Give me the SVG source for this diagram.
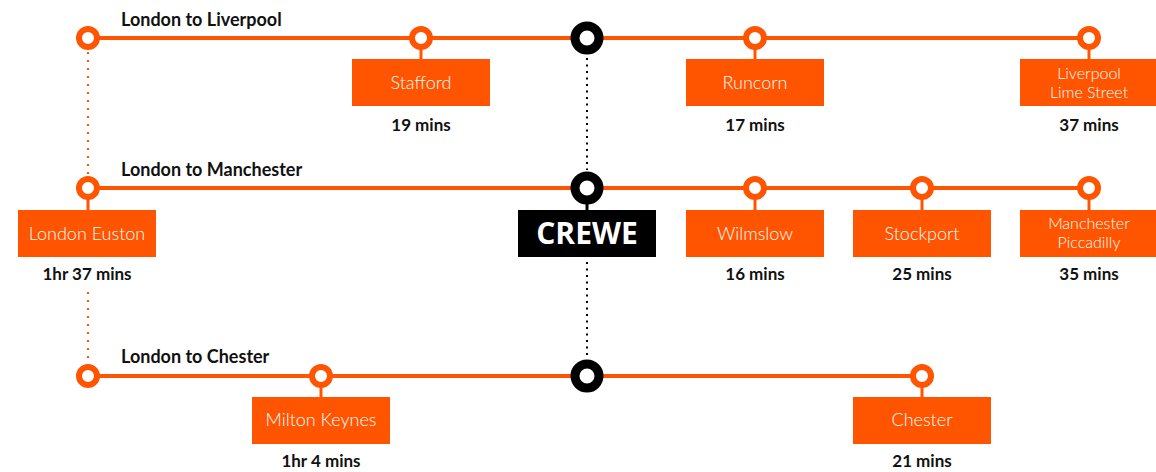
<svg xmlns="http://www.w3.org/2000/svg" width="1156" height="472" viewBox="0 0 1156 472">
<style>
.line{stroke:#ff5400;stroke-width:4;fill:none}
.stub{stroke:#ff5400;stroke-width:3}
.stubk{stroke:#000;stroke-width:3}
.dot-o{stroke:#ff5400;stroke-width:2;stroke-dasharray:2 6;fill:none}
.dot-k{stroke:#000;stroke-width:2;stroke-dasharray:2 4.5;fill:none}
.st{fill:#fff;stroke:#ff5400;stroke-width:6}
.hub{fill:#fff;stroke:#000;stroke-width:9}
.box{fill:#ff5400}
.boxk{fill:#000}
.title{font-family:Lato,"Open Sans",sans-serif;font-weight:700;font-size:18px;fill:#111}
.name{font-family:Lato,"Open Sans",sans-serif;font-weight:300;font-size:18px;fill:#fff;text-anchor:middle}
.name2{font-family:Lato,"Open Sans",sans-serif;font-weight:300;font-size:16px;fill:#fff;text-anchor:middle}
.time{font-family:Lato,"Open Sans",sans-serif;font-weight:700;font-size:17px;fill:#111;text-anchor:middle}
.crewe{font-family:"Open Sans",Lato,sans-serif;font-weight:700;font-size:30px;fill:#fff;text-anchor:middle}
</style>
<g id="connectors">
<line class="line" x1="88" y1="38" x2="1089" y2="38"/>
<line class="line" x1="88" y1="188" x2="1089" y2="188"/>
<line class="line" x1="88" y1="376" x2="922" y2="376"/>
<line class="dot-o" x1="88" y1="52" x2="88" y2="176"/>
<line class="dot-o" x1="88" y1="292" x2="88" y2="364"/>
<line class="dot-k" x1="587" y1="58" x2="587" y2="170"/>
<line class="dot-k" x1="587" y1="262" x2="587" y2="358"/>
</g>
<text class="title" x="121" y="26">London to Liverpool</text>
<text class="title" x="121" y="176">London to Manchester</text>
<text class="title" x="121" y="363">London to Chester</text>
<g id="london-liverpool-start"><circle class="st" cx="88" cy="38" r="9"/></g>
<g id="stafford">
<line class="stub" x1="421" y1="46" x2="421" y2="59"/>
<circle class="st" cx="421" cy="38" r="9"/>
<rect class="box" x="352" y="59" width="138" height="47"/>
<text class="name" x="421" y="89">Stafford</text>
<text class="time" x="421" y="131">19 mins</text>
</g>
<g id="runcorn">
<line class="stub" x1="755" y1="46" x2="755" y2="59"/>
<circle class="st" cx="755" cy="38" r="9"/>
<rect class="box" x="686" y="59" width="138" height="47"/>
<text class="name" x="755" y="89">Runcorn</text>
<text class="time" x="755" y="131">17 mins</text>
</g>
<g id="liverpool">
<line class="stub" x1="1089" y1="46" x2="1089" y2="59"/>
<circle class="st" cx="1089" cy="38" r="9"/>
<rect class="box" x="1020" y="59" width="138" height="47"/>
<text class="name2" x="1089" y="79">Liverpool<tspan x="1089" dy="19.4">Lime Street</tspan></text>
<text class="time" x="1089" y="131">37 mins</text>
</g>
<g id="crewe-top"><circle class="hub" cx="587" cy="38" r="12"/></g>
<g id="london-euston">
<line class="stub" x1="88" y1="196" x2="88" y2="210"/>
<circle class="st" cx="88" cy="188" r="9"/>
<rect class="box" x="18" y="210" width="138" height="47"/>
<text class="name" x="87" y="240">London Euston</text>
<text class="time" x="87" y="280">1hr 37 mins</text>
</g>
<g id="crewe">
<line class="stubk" x1="587" y1="196" x2="587" y2="210"/>
<circle class="hub" cx="587" cy="188" r="12"/>
<rect class="boxk" x="518" y="210" width="138" height="47"/>
<text class="crewe" x="587" y="244">CREWE</text>
</g>
<g id="wilmslow">
<line class="stub" x1="755" y1="196" x2="755" y2="210"/>
<circle class="st" cx="755" cy="188" r="9"/>
<rect class="box" x="686" y="210" width="138" height="47"/>
<text class="name" x="755" y="240">Wilmslow</text>
<text class="time" x="755" y="280">16 mins</text>
</g>
<g id="stockport">
<line class="stub" x1="922" y1="196" x2="922" y2="210"/>
<circle class="st" cx="922" cy="188" r="9"/>
<rect class="box" x="853" y="210" width="138" height="47"/>
<text class="name" x="922" y="240">Stockport</text>
<text class="time" x="922" y="280">25 mins</text>
</g>
<g id="manchester">
<line class="stub" x1="1089" y1="196" x2="1089" y2="210"/>
<circle class="st" cx="1089" cy="188" r="9"/>
<rect class="box" x="1020" y="210" width="138" height="47"/>
<text class="name2" x="1089" y="229">Manchester<tspan x="1089" dy="19.4">Piccadilly</tspan></text>
<text class="time" x="1089" y="280">35 mins</text>
</g>
<g id="london-chester-start"><circle class="st" cx="88" cy="376" r="9"/></g>
<g id="milton-keynes">
<line class="stub" x1="321" y1="384" x2="321" y2="397"/>
<circle class="st" cx="321" cy="376" r="9"/>
<rect class="box" x="252" y="397" width="138" height="47"/>
<text class="name" x="321" y="426">Milton Keynes</text>
<text class="time" x="321" y="467">1hr 4 mins</text>
</g>
<g id="crewe-bottom"><circle class="hub" cx="587" cy="376" r="12"/></g>
<g id="chester">
<line class="stub" x1="922" y1="384" x2="922" y2="397"/>
<circle class="st" cx="922" cy="376" r="9"/>
<rect class="box" x="853" y="397" width="138" height="47"/>
<text class="name" x="922" y="426">Chester</text>
<text class="time" x="922" y="467">21 mins</text>
</g>
</svg>
